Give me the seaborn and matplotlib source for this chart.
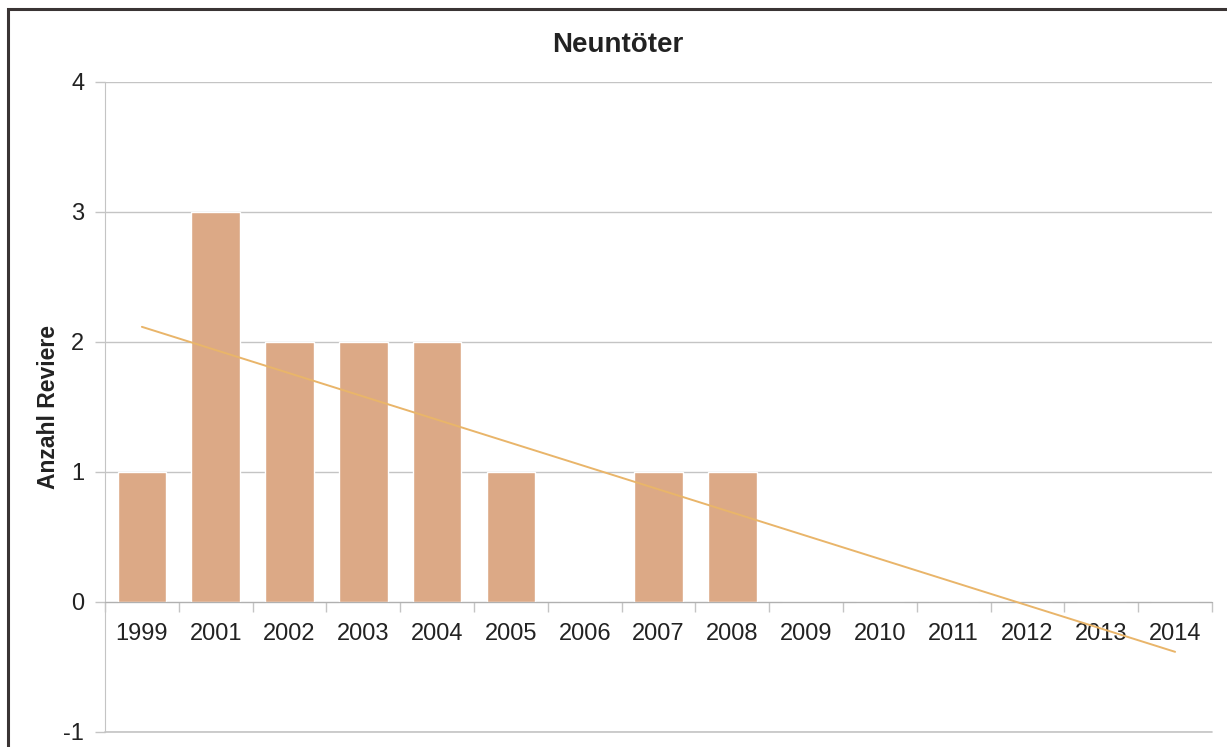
import numpy as np
import pandas as pd
import seaborn as sns
import matplotlib.pyplot as plt
from matplotlib.patches import Rectangle

# Brutreviere Neuntöter je Jahr
jahre = ['1999', '2001', '2002', '2003', '2004', '2005', '2006', '2007',
         '2008', '2009', '2010', '2011', '2012', '2013', '2014']
reviere = [1, 3, 2, 2, 2, 1, 0, 1, 1, 0, 0, 0, 0, 0, 0]

df = pd.DataFrame({'Jahr': jahre, 'Reviere': reviere})
df['idx'] = np.arange(len(df))

sns.set_style('white')
plt.rcParams['font.family'] = ['Liberation Sans', 'DejaVu Sans']
plt.rcParams['axes.unicode_minus'] = False

fig = plt.figure(figsize=(12.27, 7.47), dpi=100)
ax = fig.add_axes([105 / 1227, 1 - 732 / 747, (1212 - 105) / 1227, (732 - 82) / 747])

sns.barplot(data=df, x='Jahr', y='Reviere', color='#DCA986', saturation=1,
            width=0.66, ax=ax, zorder=2)

# linearer Trend
sns.regplot(data=df, x='idx', y='Reviere', scatter=False, ci=None, truncate=True,
            line_kws={'color': '#E9B56A', 'lw': 1.4, 'zorder': 3}, ax=ax)

ax.set_xlim(-0.5, len(jahre) - 0.5)
ax.set_ylim(-1, 4)
ax.set_yticks(range(-1, 5))
ax.yaxis.grid(True, color='#C4C4C4', lw=1)
ax.axhline(-1, color='#C4C4C4', lw=1.2, clip_on=False, zorder=0)
ax.set_axisbelow(True)

ax.spines['top'].set_visible(False)
ax.spines['right'].set_visible(False)
ax.spines['left'].set_color('#C4C4C4')
ax.spines['bottom'].set_position(('data', 0))
ax.spines['bottom'].set_color('#B0B0B0')

ax.set_xticks(range(len(jahre)))
ax.set_xticklabels(jahre)
ax.set_xticks(np.arange(-0.5, len(jahre)), minor=True)
ax.tick_params(axis='x', which='both', bottom=True)
ax.tick_params(axis='x', which='major', length=0, pad=15, labelsize=17, labelcolor='#222222')
ax.tick_params(axis='x', which='minor', length=7, width=1, color='#C4C4C4', direction='out')
ax.tick_params(axis='y', left=True, length=7, width=1, color='#C4C4C4', labelsize=17,
               pad=8, labelcolor='#222222')

ax.set_xlabel('')
ax.set_ylabel('Anzahl Reviere', fontsize=16.5, fontweight='bold', color='#222222')
ax.yaxis.set_label_coords(-0.041, 0.5)
fig.text(618 / 1227, 1 - 52 / 747, 'Neuntöter', fontsize=20, fontweight='bold',
         ha='center', va='baseline', color='#222222')

# Rahmen (rechts und unten abgeschnitten)
fig.patches.append(Rectangle((8 / 1227, -0.1), 1.2, 1 - 9 / 747 + 0.1,
                             transform=fig.transFigure, fill=False,
                             edgecolor='#3A3434', lw=2.2))

fig.savefig('out.png', dpi=100)
